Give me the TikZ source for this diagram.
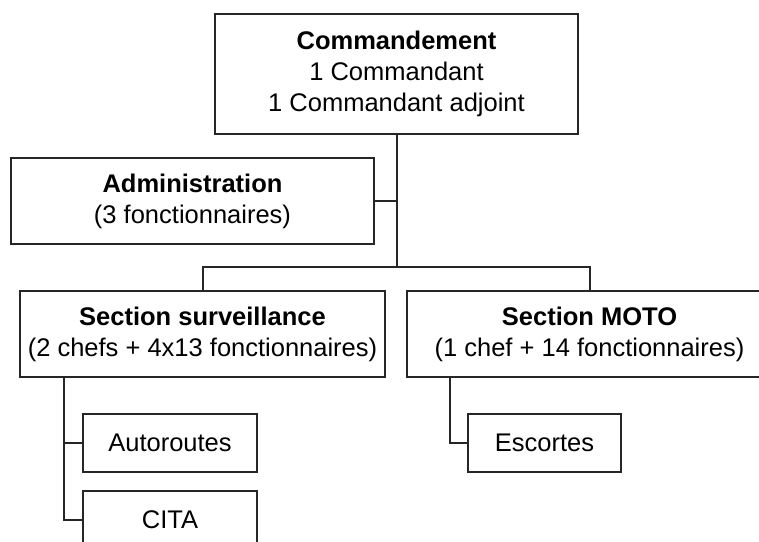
\documentclass[tikz,border=0pt]{standalone}
\usepackage{fontspec}
\setmainfont{Liberation Sans}
\usetikzlibrary{calc}
\usetikzlibrary{positioning}
\newcommand{\lineColor}{black!85}
\tikzset{unit/.style = {draw=\lineColor, line width=2pt, fill=white, align=center, inner sep=0pt,
                        font=\fontsize{25.5}{31}\selectfont}}
\tikzset{link/.style = {\lineColor, line width=2pt}}

\begin{document}
\begin{tikzpicture}[x=1pt, y=-1pt]
                    \useasboundingbox (0,0) rectangle (759,541);
                    \clip (0,0) rectangle (759,541);

                    \node[unit, minimum width=363pt, minimum height=120pt] (cmd) at (396.5,74)
                        {\textbf{Commandement}\\1 Commandant\\1 Commandant adjoint};
                    \node[unit, minimum width=363pt, minimum height=86pt] (admin) at (192.5,201)
                        {\textbf{Administration}\\(3 fonctionnaires)};
                    \node[unit, minimum width=365pt, minimum height=86pt] (surv) at (202.5,334)
                        {\textbf{Section surveillance}\\(2 chefs + 4x13 fonctionnaires)};
                    \node[unit, minimum width=365pt, minimum height=86pt] (moto) at (589.5,334)
                        {\textbf{Section MOTO}\\(1 chef + 14 fonctionnaires)};
                    \node[unit, minimum width=174pt, minimum height=58pt] (auto) at (170,443) {Autoroutes};
                    \node[unit, minimum width=174pt, minimum height=58pt] (cita) at (170,520) {CITA};
                    \node[unit, minimum width=153pt, minimum height=58pt] (esc) at (544.5,443) {Escortes};

                    \coordinate (split) at (cmd.south |- 0,267);
                    \coordinate (survbus) at ($(surv.south west)+(45,0)$);
                    \coordinate (motobus) at ($(moto.south west)+(44,0)$);

                    \draw[link] (cmd.south) -- (split);
                    \draw[link] (admin.east) -- (admin.east -| cmd.south);
                    \draw[link] (surv.north) |- (split) -| (moto.north);
                    % sub-units hang off a line under the left edge of each section
                    \draw[link] (survbus) |- (auto.west);
                    \draw[link] (survbus) |- (cita.west);
                    \draw[link] (motobus) |- (esc.west);
                \end{tikzpicture}
\end{document}
